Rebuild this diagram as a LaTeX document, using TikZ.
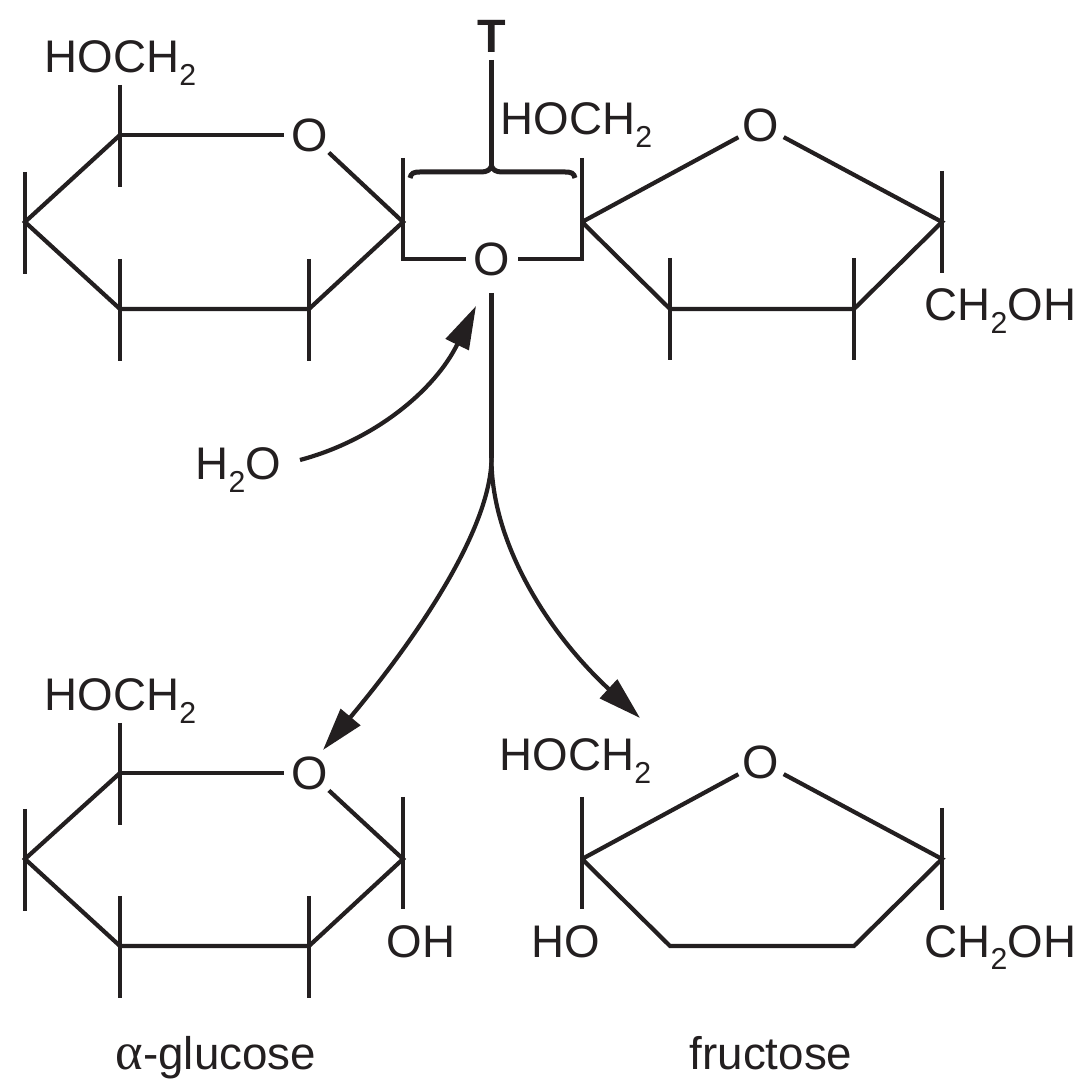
\documentclass[tikz,border=0pt]{standalone}
\usepackage{fontspec}
\setmainfont{Liberation Sans}
\newfontfamily\greekfont[Scale=1.15]{Liberation Serif}
\usetikzlibrary{arrows.meta}
\newcommand{\subtwo}{\raisebox{-0.27em}{\fontsize{8.6pt}{8.6pt}\selectfont 2}}
\definecolor{ink}{HTML}{231F20}

\begin{document}
\begin{tikzpicture}[x=0.01cm, y=-0.01cm, ink,
    bond/.style={line width=0.042cm},
    thickbond/.style={line width=0.05cm},
    reaction/.style={line width=0.042cm, -{Triangle[length=0.43cm,width=0.25cm]}},
    ringO/.style={circle, inner sep=0pt, minimum size=0.5cm, font=\fontsize{13.3pt}{13.3pt}\selectfont},
    label/.style={anchor=base west, inner sep=0pt, font=\fontsize{13pt}{13pt}\selectfont}]
    \useasboundingbox (0,0) rectangle (1091,1089);
    % top left ring
    \coordinate (A1) at (120,135);
    \coordinate (A2) at (403,222);
    \coordinate (A3) at (309,309);
    \coordinate (A4) at (120,309);
    \coordinate (A5) at (25,222);
    \node[ringO] (AO) at (310,135) {O};
    \draw[bond] (A1) -- (AO);
    \draw[bond] (AO) -- (A2) -- (A3) -- (A4) -- (A5) -- (A1);
    \foreach \v in {A1,A3,A4,A5}
      \draw[bond] (\v) ++(0,-50) -- ++(0,102);
    % bridge
    \coordinate (B1) at (582,222);
    \coordinate (A2up) at (403,158);
    \coordinate (B1up) at (582,158);
    \node[ringO] (BO) at (492,259) {O};
    \draw[bond] (A2up) -- (403,259) -- (BO);
    \draw[bond] (B1up) -- (582,259) -- (BO);
    % top right ring
    \coordinate (C2) at (942,222);
    \coordinate (C3) at (854,309);
    \coordinate (C4) at (670,309);
    \node[ringO] (CO) at (761,125) {O};
    \draw[bond] (B1) -- (CO) -- (C2) -- (C3) -- (C4) -- (B1);
    \foreach \v in {C2,C3,C4}
      \draw[bond] (\v) ++(0,-51) -- ++(0,102);
    % T and its bracket
    \node[label, anchor=base, font=\fontsize{13.3pt}{13.3pt}\selectfont\bfseries] (T) at (491.5,53) {T};
    \coordinate (Tfoot) at (491.5,166);
    \draw[thickbond] (491.5,60) -- (Tfoot);
    \draw[thickbond] (410,178) .. controls (411,173) and (414,172) .. (420,172) -- (481,172) .. controls (487,172) and (490,170) .. (Tfoot) .. controls (493,170) and (496,172) .. (502,172) -- (565,172) .. controls (571,172) and (574,173) .. (575,178);
    % text of the top row
    \node[label] (hoA) at (44,73) {HOCH\subtwo};
    \node[label] (hoB) at (500,135) {HOCH\subtwo};
    \node[label] (chC) at (924,321) {CH\subtwo OH};
    % water and the split
    \node[label] (water) at (195,480) {H\subtwo O};
    \coordinate (stem) at (491.5,293);
    \coordinate (split) at (491.5,458);
    \coordinate (waterfoot) at (300,460);
    \coordinate (watertip) at (476,306);
    \coordinate (gtip) at (323,750);
    \coordinate (ftip) at (640,718);
    \draw[bond] (stem) -- (split);
    \draw[reaction] (waterfoot) .. controls (375,440) and (435,390) .. (watertip);
    \draw[reaction] (split) .. controls (491,530) and (415,640) .. (gtip);
    \draw[reaction] (split) .. controls (491,540) and (545,630) .. (ftip);
    % bottom left ring
    \coordinate (D1) at (120,773);
    \coordinate (D2) at (403,859);
    \coordinate (D3) at (309,946);
    \coordinate (D4) at (120,946);
    \coordinate (D5) at (25,859);
    \node[ringO] (DO) at (310,773) {O};
    \draw[bond] (D1) -- (DO);
    \draw[bond] (DO) -- (D2) -- (D3) -- (D4) -- (D5) -- (D1);
    \foreach \v in {D1,D3,D4,D5}
      \draw[bond] (\v) ++(0,-50) -- ++(0,102);
    \draw[bond] (403,797) -- (403,909);
    % bottom right ring
    \coordinate (E1) at (582,859);
    \coordinate (E2) at (942,859);
    \coordinate (E3) at (854,946);
    \coordinate (E4) at (670,946);
    \node[ringO] (EO) at (761,762) {O};
    \draw[bond] (E1) -- (EO) -- (E2) -- (E3) -- (E4) -- (E1);
    \draw[bond] (582,797) -- (582,909);
    \draw[bond] (942,808) -- (942,910);
    % text of the bottom row
    \node[label] (hoD) at (44,711) {HOCH\subtwo};
    \node[label] (hoE) at (499,771) {HOCH\subtwo};
    \node[label] (ohD) at (386,957) {OH};
    \node[label] (hoEb) at (531,957) {HO};
    \node[label] (chE) at (924,957) {CH\subtwo OH};
    \node[label] (glucose) at (115,1069) {{\greekfont α}-glucose};
    \node[label] (fructose) at (689,1069) {fructose};
\end{tikzpicture}
\end{document}
